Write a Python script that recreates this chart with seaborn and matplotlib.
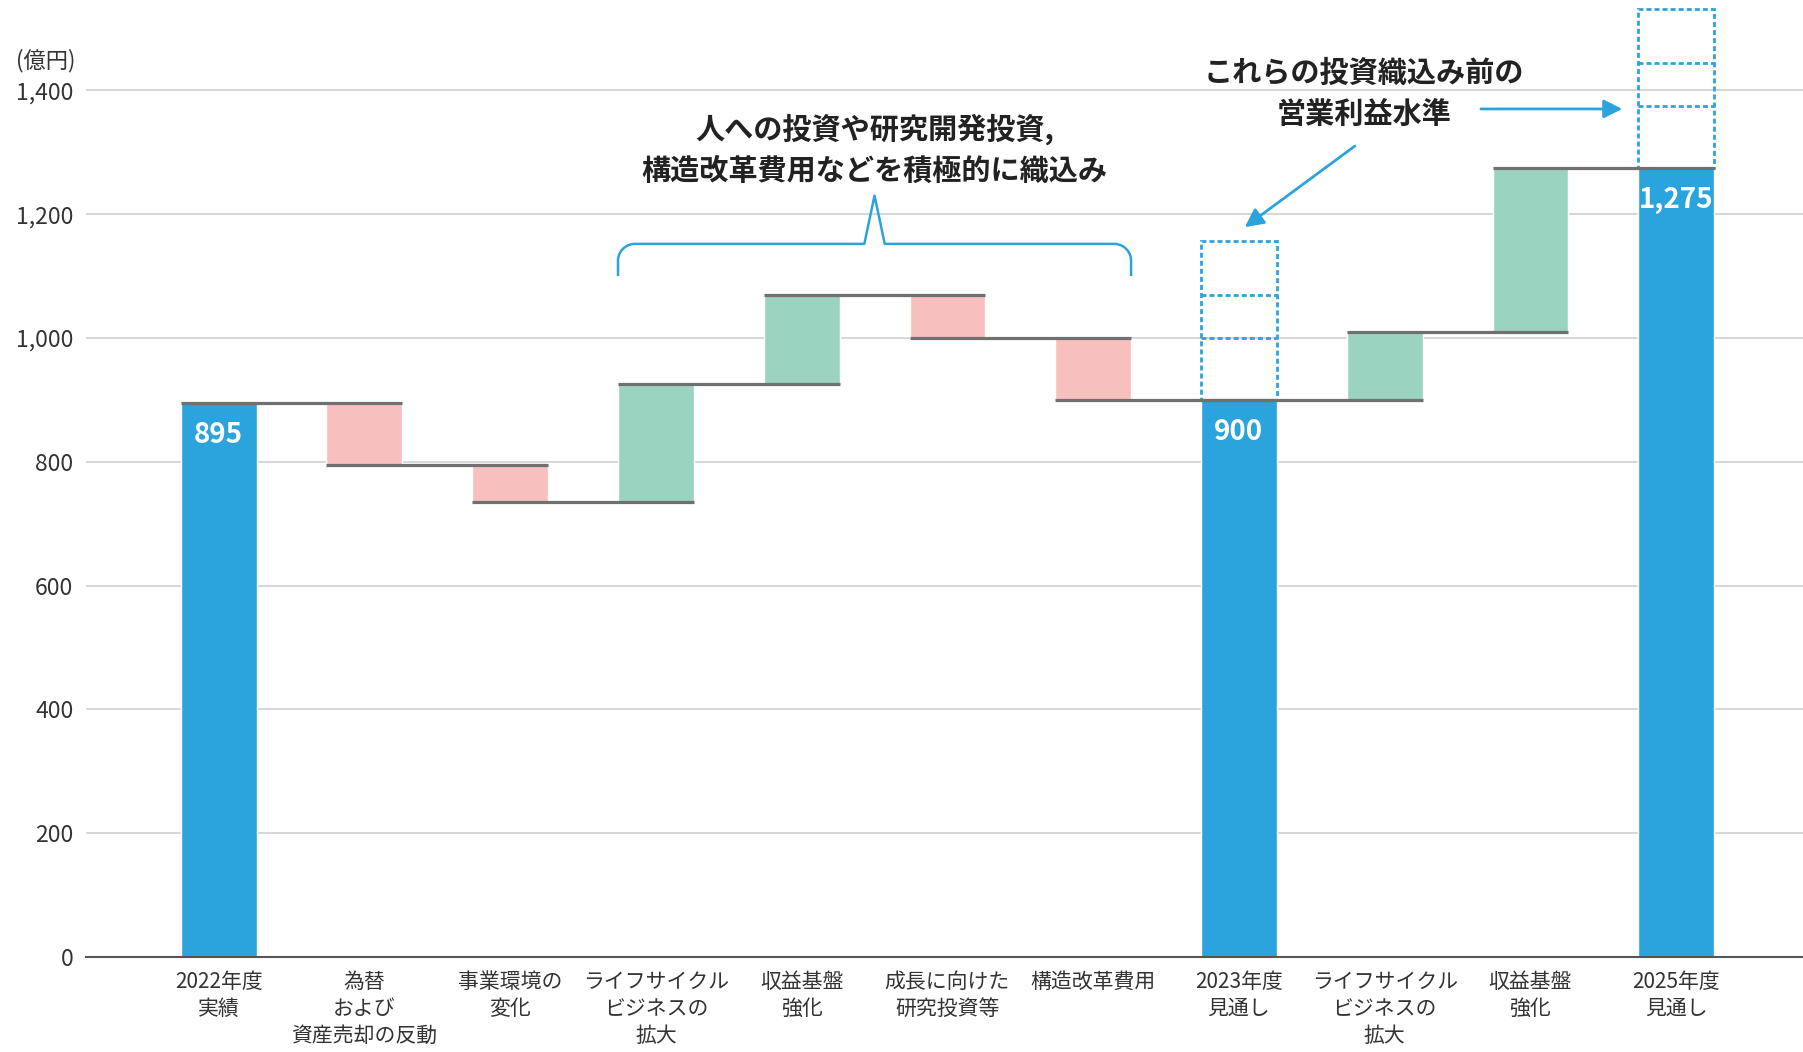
import numpy as np
import pandas as pd
import matplotlib
matplotlib.use("Agg")
import matplotlib.pyplot as plt
import seaborn as sns

# waterfall data (億円)
labels = ["2022年度\n実績", "為替\nおよび\n資産売却の反動", "事業環境の\n変化",
          "ライフサイクル\nビジネスの\n拡大", "収益基盤\n強化", "成長に向けた\n研究投資等",
          "構造改革費用", "2023年度\n見通し", "ライフサイクル\nビジネスの\n拡大",
          "収益基盤\n強化", "2025年度\n見通し"]
values = [895, -100, -60, 190, 145, -70, -100, 900, 110, 265, 1275]
is_total = [True, False, False, False, False, False, False, True, False, False, True]

# investments already built into the forecasts (dashed boxes, bottom to top)
pre_invest = [100, 70, 87]
pre_invest_bars = [7, 10]

yticks = [0, 200, 400, 600, 800, 1000, 1200, 1400]

BLUE = "#2BA3DD"
PINK = "#F8BFBF"
GREEN = "#9AD4C1"
TEXT = "#222222"
DASH = (0, (1.8, 1.1))

sns.set_theme(style="white")
plt.rcParams["font.family"] = ["Noto Sans CJK JP", "DejaVu Sans"]

# build bar table
ids = [str(i) for i in range(len(values))]
rows = []
run = 0
levels = []
for i, (v, tot) in enumerate(zip(values, is_total)):
    if tot:
        rows.append(dict(id=ids[i], bottom=0, height=v, kind="total"))
        run = v
    else:
        rows.append(dict(id=ids[i], bottom=min(run, run + v), height=abs(v),
                         kind="pos" if v > 0 else "neg"))
        run += v
    levels.append(run)
df = pd.DataFrame(rows)

fig = plt.figure(figsize=(18.03, 10.52), dpi=100)
ax = fig.add_axes([86 / 1803, 1 - 957 / 1052, 1 - 86 / 1803, 957 / 1052])

W = 0.52
colors = {"total": BLUE, "neg": PINK, "pos": GREEN}
for kind, col in colors.items():
    sub = df[df["kind"] == kind]
    sns.barplot(data=sub, x="id", y="height", order=ids, color=col, width=W,
                errorbar=None, saturation=1, bottom=sub["bottom"].to_numpy(),
                ax=ax, zorder=2)

# dashed boxes above the forecast bars: outer outline + dividers
base = np.array([levels[i] for i in pre_invest_bars], dtype=float)
box = pd.DataFrame({"id": [ids[i] for i in pre_invest_bars],
                    "height": [sum(pre_invest)] * len(pre_invest_bars)})
sns.barplot(data=box, x="id", y="height", order=ids, color=BLUE, width=W,
            errorbar=None, saturation=1, fill=False, bottom=base,
            linestyle=DASH, linewidth=2, ax=ax, zorder=3)
for j, i in enumerate(pre_invest_bars):
    for lv in np.cumsum(pre_invest)[:-1]:
        ax.hlines(base[j] + lv, i - W / 2, i + W / 2, color=BLUE, lw=2,
                  linestyles=[DASH], zorder=3)

# connector lines
for i in range(len(values) - 1):
    ax.hlines(levels[i], i - W / 2, i + 1 + W / 2, color="#707070", lw=2.3, zorder=4)

# value labels in total bars
for i, (v, tot) in enumerate(zip(values, is_total)):
    if tot:
        ax.text(i, v - 52, f"{v:,}", ha="center", va="center", color="white",
                fontsize=20, fontweight="bold", zorder=5)

# brace over the investment steps
x0, x1, yb, yh, ytip = 3 - W / 2, 6 + W / 2, 1100, 1152, 1230
rx, ry = 0.117, 27
t = np.linspace(np.pi, np.pi / 2, 20)
left_arc = np.c_[x0 + rx + rx * np.cos(t), yh - ry + ry * np.sin(t)]
t2 = np.linspace(np.pi / 2, 0, 20)
right_arc = np.c_[x1 - rx + rx * np.cos(t2), yh - ry + ry * np.sin(t2)]
mid = 4.5
pts = np.vstack([[[x0, yb]], left_arc,
                 [[mid - 0.07, yh], [mid, ytip], [mid + 0.07, yh]],
                 right_arc, [[x1, yb]]])
ax.plot(pts[:, 0], pts[:, 1], color=BLUE, lw=1.8, zorder=5, solid_capstyle="butt")

ax.text(mid, 1304, "人への投資や研究開発投資,\n構造改革費用などを積極的に織込み",
        ha="center", va="center", fontsize=21, fontweight="bold", color=TEXT,
        linespacing=1.45)
ax.text(7.86, 1395, "これらの投資織込み前の\n営業利益水準",
        ha="center", va="center", fontsize=21, fontweight="bold", color=TEXT,
        linespacing=1.45)
arrow = dict(arrowstyle="-|>", color=BLUE, lw=2, mutation_scale=28, shrinkA=0, shrinkB=0)
ax.annotate("", xy=(7.04, 1179), xytext=(7.795, 1310), arrowprops=arrow, zorder=5)
ax.annotate("", xy=(9.63, 1370), xytext=(8.66, 1370), arrowprops=arrow, zorder=5)

# axes styling
ax.set_xlim(-0.91, 10.87)
ax.set_ylim(0, 1546)
ax.set_yticks(yticks)
ax.set_yticklabels([f"{v:,}" for v in yticks], fontsize=16.5, color="#333333")
ax.set_xticks(range(len(labels)))
ax.set_xticklabels(labels, fontsize=15, color="#333333", linespacing=1.3)
ax.tick_params(axis="both", length=0)
ax.tick_params(axis="x", pad=10)
ax.tick_params(axis="y", pad=9)
ax.set(xlabel="", ylabel="")
ax.yaxis.grid(True, color="#cccccc", lw=1.1, zorder=0)
ax.set_axisbelow(True)
for s in ["left", "right", "top"]:
    ax.spines[s].set_visible(False)
ax.spines["bottom"].set_color("#555555")
ax.spines["bottom"].set_linewidth(1.5)
ax.spines["bottom"].set_zorder(6)

fig.text(75 / 1803, 1 - 61 / 1052, "(億円)", ha="right", va="center",
         fontsize=16, color="#333333")

fig.savefig("out.png", dpi=100)
